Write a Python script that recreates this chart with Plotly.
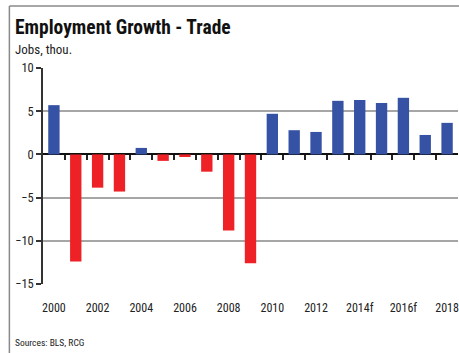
import plotly.graph_objects as go

# data
years = list(range(2000, 2019))
growth = [5.7, -12.4, -3.85, -4.3, 0.75, -0.75, -0.3, -2.0, -8.8, -12.6,
          4.7, 2.8, 2.6, 6.2, 6.3, 5.95, 6.55, 2.25, 3.65]
label_years = [2000, 2002, 2004, 2006, 2008, 2010, 2012, 2014, 2016, 2018]
label_text = ["2000", "2002", "2004", "2006", "2008", "2010", "2012", "2014f", "2016f", "2018"]
y_ticks = [10, 5, 0, -5, -10, -15]

BLUE = "#3652a4"
RED = "#ee2127"
FONT = "Roboto Condensed, Liberation Sans Narrow, DejaVu Sans Condensed, sans-serif"

colors = [BLUE if v >= 0 else RED for v in growth]

fig = go.Figure()
fig.add_trace(go.Bar(
    x=years, y=growth,
    marker=dict(color=colors, line=dict(width=0)),
    width=0.52,
    showlegend=False,
))

# boundaries between years for the tick marks on the zero line
bounds = [y + 0.5 for y in years[:-1]]

fig.update_layout(
    width=459, height=353,
    margin=dict(l=43, r=1, t=68, b=69),
    paper_bgcolor="white",
    plot_bgcolor="white",
    font=dict(family=FONT, size=12, color="#222"),
    xaxis=dict(
        range=[1999.5, 2018.5],
        tickvals=label_years,
        ticktext=label_text,
        ticks="outside", ticklen=13, tickcolor="rgba(0,0,0,0)",
        showgrid=False, showline=False, zeroline=False,
        tickfont=dict(size=12, color="#222"),
    ),
    xaxis2=dict(
        overlaying="x", matches="x",
        anchor="free", position=0.6,
        range=[1999.5, 2018.5],
        tickvals=bounds,
        ticks="outside", ticklen=5, tickwidth=1.5, tickcolor="#222",
        showticklabels=False, showgrid=False, showline=False, zeroline=False,
    ),
    yaxis=dict(
        range=[-15, 10],
        tickvals=y_ticks,
        showgrid=True, gridcolor="#a6a6a6", gridwidth=1.5,
        zeroline=True, zerolinecolor="#111", zerolinewidth=1.5,
        showline=True, linecolor="#333", linewidth=1.5,
        ticks="outside", ticklen=5, tickwidth=1.5, tickcolor="#333",
        tickfont=dict(size=12.5, color="#222"),
    ),
)

# a hidden trace so xaxis2 is drawn
fig.add_trace(go.Scatter(x=[years[0]], y=[0], xaxis="x2", mode="markers",
                         marker=dict(opacity=0), showlegend=False, hoverinfo="skip"))

# gray frame (top and left edge)
fig.add_shape(type="line", xref="paper", yref="paper",
              x0=-0.081, x1=1.01, y0=1.287, y1=1.287,
              line=dict(color="#8a8a8a", width=1.5))
fig.add_shape(type="line", xref="paper", yref="paper",
              x0=-0.081, x1=-0.081, y0=1.287, y1=-0.33,
              line=dict(color="#8a8a8a", width=1.5))

fig.add_annotation(text="<b>Employment Growth - Trade</b>", xref="paper", yref="paper",
                   x=-0.072, y=1.187, xanchor="left", yanchor="middle", showarrow=False,
                   font=dict(family=FONT, size=19.5, color="#111"))
fig.add_annotation(text="Jobs, thou.", xref="paper", yref="paper",
                   x=-0.072, y=1.085, xanchor="left", yanchor="middle", showarrow=False,
                   font=dict(family=FONT, size=13, color="#222"))
fig.add_annotation(text="Sources: BLS, RCG", xref="paper", yref="paper",
                   x=-0.072, y=-0.272, xanchor="left", yanchor="middle", showarrow=False,
                   font=dict(family=FONT, size=9.5, color="#222"))

fig.write_html("out.html", config={"displayModeBar": False},
               post_script="document.body.style.margin='0';")
